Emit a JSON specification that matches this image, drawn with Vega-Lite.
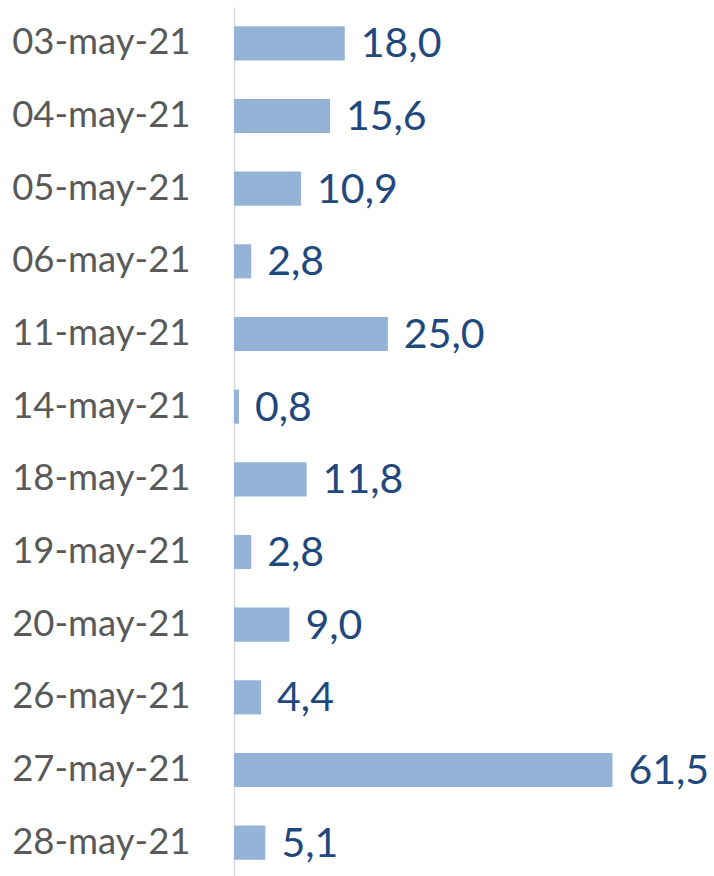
{
  "$schema": "https://vega.github.io/schema/vega-lite/v6.json",
  "width": 480,
  "height": 872,
  "autosize": {"type": "none"},
  "padding": {"left": 234, "top": 7, "right": 0, "bottom": 0},
  "background": "white",
  "data": {"values": [
    {"date": "03-may-21", "value": 18.0, "label": "18,0"},
    {"date": "04-may-21", "value": 15.6, "label": "15,6"},
    {"date": "05-may-21", "value": 10.9, "label": "10,9"},
    {"date": "06-may-21", "value": 2.8, "label": "2,8"},
    {"date": "11-may-21", "value": 25.0, "label": "25,0"},
    {"date": "14-may-21", "value": 0.8, "label": "0,8"},
    {"date": "18-may-21", "value": 11.8, "label": "11,8"},
    {"date": "19-may-21", "value": 2.8, "label": "2,8"},
    {"date": "20-may-21", "value": 9.0, "label": "9,0"},
    {"date": "26-may-21", "value": 4.4, "label": "4,4"},
    {"date": "27-may-21", "value": 61.5, "label": "61,5"},
    {"date": "28-may-21", "value": 5.1, "label": "5,1"}
  ]},
  "encoding": {
    "y": {
      "field": "date", "type": "nominal", "sort": null,
      "scale": {"paddingInner": 0.53, "paddingOuter": 0.265},
      "axis": {
        "title": null, "ticks": false, "grid": false,
        "domainColor": "#D9D9D9", "domainWidth": 1.5,
        "labelFont": "Lato", "labelFontSize": 36.5, "labelColor": "#595959",
        "labelPadding": 44, "labelLimit": 0
      }
    },
    "x": {
      "field": "value", "type": "quantitative",
      "scale": {"domain": [0, 78], "nice": false, "zero": true},
      "axis": null
    }
  },
  "layer": [
    {"mark": {"type": "bar", "color": "#95B3D7"}},
    {
      "mark": {"type": "text", "align": "left", "baseline": "middle", "dx": 16, "dy": 2,
               "font": "Lato", "fontSize": 41, "color": "#1F497D"},
      "encoding": {"text": {"field": "label"}}
    }
  ],
  "config": {"view": {"stroke": null}}
}
